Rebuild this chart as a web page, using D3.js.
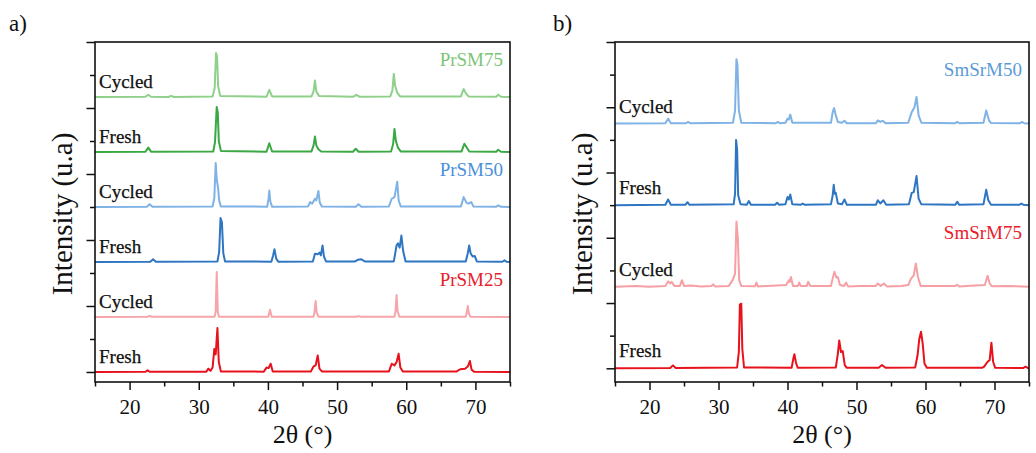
<!DOCTYPE html>
<html><head><meta charset="utf-8">
<script src="https://cdn.jsdelivr.net/npm/d3@7"></script>
<style>
html,body{margin:0;padding:0;background:#fff;}
svg{display:block;}
svg text{font-family:"Liberation Serif","Times New Roman",serif;}
</style></head>
<body>
<svg id="chart" width="1036" height="453"></svg>
<script>
// ---- data: [2θ, intensity] vertices ----
const xTickLabels = [20, 30, 40, 50, 60, 70];

const prsm75Cycled = [[15,0],[22.3,0.02],[22.7,0.2],[23.1,0.02],[25.6,0],[26,0.1],[26.4,0],[32,0.05],[32.3,0.8],[32.5,4.0],[32.65,3.7],[32.8,1.0],[33.1,0.1],[39.8,0.03],[40.2,0.65],[40.6,0.05],[46.3,0.05],[46.6,0.5],[46.8,1.5],[47.0,0.5],[47.4,0.08],[52.3,0.02],[52.8,0.2],[53.3,0.02],[57.7,0.05],[58.0,0.6],[58.2,2.1],[58.4,1.0],[58.7,0.4],[59.1,0.05],[67.9,0.05],[68.3,0.73],[68.6,0.35],[69.0,0.05],[73.0,0.02],[73.3,0.2],[73.7,0.02],[75,0]];
const prsm75Fresh = [[15,0],[22.3,0.03],[22.7,0.4],[23.1,0.03],[32.1,0.05],[32.35,0.9],[32.6,4.1],[32.75,3.6],[32.9,1.0],[33.2,0.1],[39.8,0.03],[40.2,0.8],[40.6,0.05],[46.3,0.05],[46.6,0.6],[46.8,1.4],[47.0,0.6],[47.3,0.25],[47.7,0.05],[52.3,0.02],[52.7,0.3],[53.1,0.02],[57.8,0.05],[58.1,0.7],[58.3,2.1],[58.5,1.0],[58.8,0.4],[59.2,0.05],[68.0,0.05],[68.4,0.75],[68.7,0.45],[69.1,0.05],[73.0,0.02],[73.3,0.2],[73.7,0.02],[75,0]];
const prsm50Cycled = [[15,0],[22.5,0.02],[22.9,0.25],[23.3,0.02],[32.0,0.05],[32.25,0.8],[32.45,4.0],[32.6,2.5],[32.8,1.7],[32.95,0.6],[33.2,0.05],[39.9,0.03],[40.1,0.8],[40.2,1.5],[40.35,0.5],[40.6,0.03],[45.8,0.05],[46.1,0.45],[46.4,0.3],[46.8,0.75],[47.0,0.6],[47.3,1.45],[47.5,0.4],[47.8,0.05],[52.7,0.02],[53.1,0.25],[53.5,0.02],[57.5,0.05],[57.9,0.75],[58.3,0.9],[58.7,2.3],[58.9,0.6],[59.2,0.05],[67.9,0.05],[68.3,0.9],[68.7,0.4],[69.0,0.3],[69.4,0.45],[69.7,0.05],[73.0,0.02],[73.3,0.15],[73.7,0.02],[75,0]];
const prsm50Fresh = [[15,0],[23.0,0.02],[23.4,0.25],[23.8,0.02],[32.7,0.05],[32.95,0.9],[33.15,4.0],[33.35,3.6],[33.55,0.8],[33.8,0.05],[40.5,0.03],[40.75,0.6],[40.95,1.15],[41.2,0.3],[41.5,0.03],[46.5,0.05],[46.8,0.75],[47.2,0.7],[47.45,0.85],[47.65,0.6],[47.9,1.5],[48.1,0.5],[48.4,0.05],[52.6,0.05],[53.0,0.2],[53.5,0.25],[54.0,0.05],[58.2,0.05],[58.6,1.5],[58.8,1.7],[59.05,1.3],[59.3,2.4],[59.55,1.0],[59.9,0.05],[68.6,0.05],[68.9,0.8],[69.1,1.5],[69.3,0.8],[69.6,0.5],[69.9,0.55],[70.2,0.05],[73.9,0.02],[74.2,0.15],[74.5,0.02],[75,0]];
const prsm25Cycled = [[15,0],[22.6,0.02],[22.9,0.1],[23.2,0.02],[32.3,0.03],[32.45,0.5],[32.6,4.1],[32.75,0.5],[32.9,0.03],[40.05,0.03],[40.3,0.65],[40.55,0.03],[46.6,0.03],[46.75,0.5],[46.9,1.45],[47.05,0.4],[47.3,0.03],[52.8,0.02],[53.1,0.08],[53.4,0.02],[58.3,0.03],[58.45,0.5],[58.6,2.0],[58.75,0.5],[59.0,0.03],[68.6,0.03],[68.75,0.4],[68.9,1.0],[69.05,0.3],[69.3,0.03],[75,0]];
const prsm25Fresh = [[15,0],[22.3,0.02],[22.6,0.15],[22.9,0.02],[31.1,0.03],[31.4,0.3],[31.7,0.1],[32.0,0.4],[32.25,2.1],[32.45,1.6],[32.7,4.0],[32.9,0.9],[33.2,0.05],[39.4,0.03],[39.8,0.4],[40.1,0.35],[40.4,0.75],[40.7,0.05],[46.2,0.05],[46.6,0.5],[46.9,0.6],[47.2,1.5],[47.45,0.3],[47.8,0.05],[57.5,0.05],[57.9,0.75],[58.3,0.6],[58.6,0.9],[58.9,1.65],[59.15,0.4],[59.5,0.05],[67.3,0.05],[67.8,0.25],[68.5,0.3],[68.9,0.5],[69.2,1.0],[69.45,0.2],[69.8,0.03],[75,0]];

const smsrm50Cycled = [[15,0],[22.3,0.02],[22.7,0.3],[23.1,0.02],[25.3,0.02],[25.6,0.1],[25.9,0.02],[32.1,0.05],[32.4,0.8],[32.6,3.95],[32.75,3.6],[32.95,0.8],[33.3,0.05],[38.3,0.02],[38.6,0.1],[38.9,0.02],[39.7,0.05],[40.0,0.3],[40.2,0.25],[40.4,0.55],[40.7,0.05],[46.3,0.05],[46.55,0.7],[46.75,0.95],[47.0,0.5],[47.3,0.1],[47.9,0.05],[48.25,0.17],[48.6,0.02],[52.8,0.02],[53.1,0.2],[53.45,0.1],[53.8,0.17],[54.2,0.02],[57.5,0.05],[58.0,0.7],[58.4,1.0],[58.7,1.63],[59.0,0.5],[59.4,0.05],[64.3,0.02],[64.6,0.1],[64.9,0.02],[68.4,0.05],[68.8,0.8],[69.2,0.2],[69.5,0.03],[73.7,0.02],[74.0,0.1],[74.3,0.02],[75,0]];
const smsrm50Fresh = [[15,0],[22.3,0.02],[22.7,0.35],[23.1,0.02],[25.2,0.02],[25.5,0.18],[25.8,0.02],[32.2,0.05],[32.4,0.7],[32.55,4.0],[32.7,3.4],[32.85,0.6],[33.2,0.05],[34.1,0.02],[34.4,0.25],[34.7,0.02],[38.2,0.02],[38.5,0.15],[38.8,0.02],[39.7,0.05],[40.0,0.5],[40.2,0.35],[40.4,0.65],[40.7,0.05],[41.9,0.02],[42.2,0.1],[42.5,0.02],[46.3,0.05],[46.55,0.6],[46.7,1.25],[46.85,0.7],[47.0,0.75],[47.3,0.1],[47.9,0.05],[48.25,0.35],[48.6,0.02],[52.8,0.02],[53.1,0.3],[53.45,0.1],[53.9,0.3],[54.3,0.02],[57.6,0.05],[58.0,0.75],[58.3,0.8],[58.7,1.78],[59.0,0.4],[59.4,0.05],[64.3,0.02],[64.6,0.2],[64.9,0.02],[68.4,0.05],[68.8,0.95],[69.1,0.3],[69.5,0.03],[73.6,0.02],[73.9,0.1],[74.2,0.02],[75,0]];
const smsrm75Cycled = [[15,0],[18,0.05],[20,0.0],[22.3,0.05],[22.7,0.33],[23.0,0.2],[23.2,0.3],[23.6,0.05],[24.4,0.05],[24.7,0.4],[25.0,0.05],[26,0.08],[27.5,0.02],[29.0,0.05],[29.2,0.15],[29.5,0.02],[31.5,0.05],[32.1,0.45],[32.4,0.8],[32.6,4.0],[32.8,3.0],[33.0,0.4],[33.3,0.05],[35.3,0.03],[35.5,0.25],[35.7,0.02],[37,0.05],[38.5,0.08],[39.8,0.1],[40.2,0.4],[40.35,0.3],[40.5,0.6],[40.8,0.05],[41.5,0.05],[41.7,0.25],[41.9,0.05],[42.8,0.05],[43.0,0.3],[43.3,0.05],[46.3,0.05],[46.6,0.6],[46.8,0.92],[47.1,0.55],[47.3,0.6],[47.6,0.1],[48.2,0.05],[48.5,0.25],[48.8,0.02],[50.5,0.05],[52.8,0.05],[53.1,0.2],[53.5,0.05],[54.0,0.2],[54.4,0.02],[56.5,0.05],[57.5,0.1],[57.9,0.5],[58.3,0.7],[58.6,1.43],[58.9,0.6],[59.3,0.05],[61,0.05],[64.3,0.05],[64.6,0.12],[64.9,0.02],[66.5,0.06],[68.6,0.1],[69.0,0.67],[69.3,0.2],[69.6,0.03],[72,0.05],[75,0]];
const smsrm75Fresh = [[15,0],[23.0,0.02],[23.4,0.18],[23.8,0.02],[32.7,0.05],[32.95,1.0],[33.1,3.9],[33.3,3.96],[33.45,1.2],[33.7,0.05],[40.6,0.03],[40.85,0.6],[41.0,0.86],[41.25,0.3],[41.5,0.03],[47.0,0.05],[47.3,0.9],[47.5,1.71],[47.75,1.0],[48.0,1.06],[48.3,0.2],[48.6,0.03],[53.2,0.03],[53.7,0.2],[54.2,0.03],[58.5,0.05],[58.85,0.8],[59.1,1.8],[59.35,2.24],[59.6,1.5],[59.85,0.3],[60.2,0.03],[68.2,0.03],[68.5,0.1],[69.0,0.4],[69.3,0.5],[69.55,1.57],[69.8,0.4],[70.1,0.03],[74.2,0.02],[74.5,0.1],[74.8,0.02],[75,0]];

const panelASeries = [
  {data: prsm25Fresh,  offset: 0,  color: "#e8121c", label: "Fresh"},
  {data: prsm25Cycled, offset: 5,  color: "#f6a5ab", label: "Cycled"},
  {data: prsm50Fresh,  offset: 10, color: "#2e75c2", label: "Fresh"},
  {data: prsm50Cycled, offset: 15, color: "#7fb2e5", label: "Cycled"},
  {data: prsm75Fresh,  offset: 20, color: "#3aa843", label: "Fresh"},
  {data: prsm75Cycled, offset: 25, color: "#8fd08a", label: "Cycled"}
];
const panelANames = [
  {text: "PrSM25", offset: 5,  color: "#e8202a"},
  {text: "PrSM50", offset: 15, color: "#4a90d9"},
  {text: "PrSM75", offset: 25, color: "#7cc576"}
];
const panelBSeries = [
  {data: smsrm75Fresh,  offset: 0,  color: "#e8121c", label: "Fresh"},
  {data: smsrm75Cycled, offset: 5,  color: "#f6a0a5", label: "Cycled"},
  {data: smsrm50Fresh,  offset: 10, color: "#2e75c2", label: "Fresh"},
  {data: smsrm50Cycled, offset: 15, color: "#7fb2e5", label: "Cycled"}
];
const panelBNames = [
  {text: "SmSrM75", offset: 5,  color: "#e8202a"},
  {text: "SmSrM50", offset: 15, color: "#5b9bd5"}
];

const svg = d3.select("#chart");

function panel(opt) {
  const {left, right, top, bottom, yMin, yMax, yStep, majorEvery, series, names, tag, tagX, labelDy, nameDy} = opt;
  const x = d3.scaleLinear().domain([15, 75]).range([left, right]);
  const y = d3.scaleLinear().domain([yMin, yMax]).range([bottom, top]);
  const g = svg.append("g");

  const line = d3.line().x(d => x(d[0])).y(d => y(d[1]));
  series.forEach(s => {
    g.append("path")
      .datum(s.data.map(d => [d[0], d[1] + s.offset]))
      .attr("d", line)
      .attr("fill", "none")
      .attr("stroke", s.color)
      .attr("stroke-width", 2)
      .attr("stroke-linejoin", "round");
    g.append("text")
      .attr("x", x(15) + 4)
      .attr("y", y(s.offset) + labelDy)
      .attr("font-size", 19)
      .attr("fill", "#111")
      .attr("stroke", "#111").attr("stroke-width", 0.25)
      .text(s.label);
  });
  names.forEach(n => {
    g.append("text")
      .attr("x", x(75) - 7)
      .attr("y", y(n.offset) + nameDy)
      .attr("text-anchor", "end")
      .attr("font-size", 19)
      .attr("fill", n.color)
      .text(n.text);
  });

  const xMajor = d3.axisBottom(x).tickValues(xTickLabels).tickSize(8).tickPadding(9).tickFormat(d3.format("d"));
  const xMinor = d3.axisBottom(x).tickValues(d3.range(15, 76, 10)).tickSize(4.5).tickFormat("");
  const gx = g.append("g").attr("transform", `translate(0,${bottom})`).call(xMajor);
  const gx2 = g.append("g").attr("transform", `translate(0,${bottom})`).call(xMinor);
  const yVals = d3.range(0, yMax + 0.001, yStep);
  const yMajorVals = yVals.filter(v => Math.round(v / yStep) % majorEvery === 0);
  const yMinorVals = yVals.filter(v => Math.round(v / yStep) % majorEvery !== 0);
  const gy = g.append("g").attr("transform", `translate(${left},0)`).call(d3.axisLeft(y).tickValues(yMajorVals).tickSize(8.5).tickFormat(""));
  const gy2 = g.append("g").attr("transform", `translate(${left},0)`).call(d3.axisLeft(y).tickValues(yMinorVals).tickSize(5).tickFormat(""));
  [gx, gx2, gy, gy2].forEach(a => {
    a.attr("font-family", null);
    a.select(".domain").remove();
    a.selectAll("line").attr("stroke", "#111").attr("stroke-width", 1.5);
  });
  gx.selectAll("text").attr("font-size", 21).attr("fill", "#111");

  g.append("rect")
    .attr("x", left).attr("y", top)
    .attr("width", right - left).attr("height", bottom - top)
    .attr("fill", "none").attr("stroke", "#111").attr("stroke-width", 1.6);

  g.append("text")
    .attr("x", (left + right) / 2).attr("y", 443)
    .attr("text-anchor", "middle").attr("font-size", 26).attr("fill", "#111")
    .text("2θ (°)");
  g.append("text")
    .attr("transform", `translate(${left - 23},${(top + bottom) / 2 + 2}) rotate(-90)`)
    .attr("text-anchor", "middle").attr("font-size", 29).attr("fill", "#111")
    .text("Intensity (u.a)");
  g.append("text")
    .attr("x", tagX).attr("y", 31)
    .attr("font-size", 23).attr("fill", "#111")
    .text(tag);
}

panel({left: 95, right: 510, top: 42, bottom: 382, yMin: -0.91, yMax: 30, yStep: 3, majorEvery: 2,
  series: panelASeries, names: panelANames, tag: "a)", tagX: 9, labelDy: -9, nameDy: -31});
panel({left: 615, right: 1029, top: 42, bottom: 382, yMin: -0.84, yMax: 20, yStep: 2, majorEvery: 2,
  series: panelBSeries, names: panelBNames, tag: "b)", tagX: 553, labelDy: -11, nameDy: -48});
</script>
</body></html>
